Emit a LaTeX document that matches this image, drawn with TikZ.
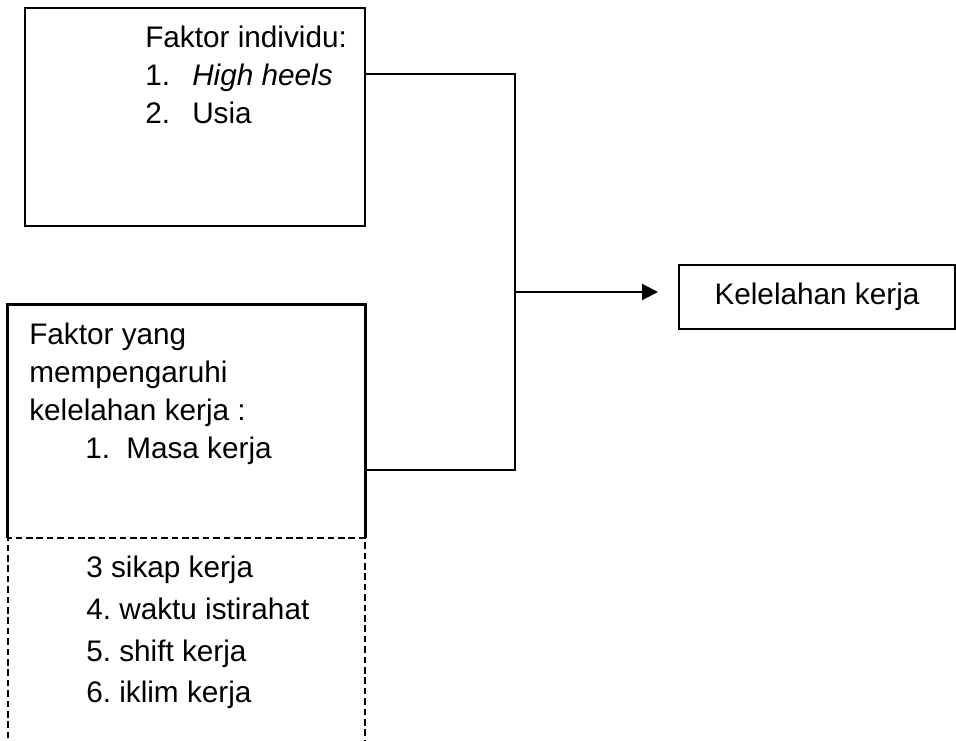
\documentclass[tikz,border=0pt]{standalone}
\usepackage{fontspec}
\setmainfont{Liberation Sans}
\usetikzlibrary{positioning,arrows.meta}
\frenchspacing

\tikzset{
  kotak/.style={draw, line width=2pt, inner sep=0pt},
  teks/.style={anchor=base west, inner sep=0pt, font=\fontsize{22.3}{26}\selectfont},
  garis/.style={line width=1.6pt},
  putus/.style={line width=1.8pt, dash pattern=on 5pt off 2.8pt},
}

\begin{document}
\begin{tikzpicture}[x=0.75pt,y=-0.75pt]
  \useasboundingbox (0,0) rectangle (956,740);

  % Kotak faktor individu
  \node[kotak, minimum width=255pt, minimum height=163.5pt] (ind) at (195,117) {};
  \node[teks] (ind1) at (145,47) {Faktor individu:};
  \node[teks] (ind2) at (145,85) {1.};
  \node[teks] (ind3) at (192,85) {\textit{High heels}};
  \node[teks] (ind4) at (145,123) {2.};
  \node[teks] (ind5) at (192,123) {Usia};

  % Kotak faktor yang mempengaruhi (sisi bawah putus-putus)
  \node[minimum width=267.75pt, minimum height=174.75pt, inner sep=0pt] (masa) at (186.5,421.5) {};
  \draw[line width=2pt] (masa.south west) -- (masa.north west) -- (masa.north east) -- (masa.south east);
  \node[teks] (mp1) at (29,344) {Faktor yang};
  \node[teks] (mp2) at (29,382) {mempengaruhi};
  \node[teks] (mp3) at (29,420) {kelelahan kerja :};
  \node[teks] (mp4) at (85,458) {1.};
  \node[teks] (mp5) at (126,458) {Masa kerja};

  % Faktor lain (kotak putus-putus)
  \node[minimum width=267.75pt, minimum height=157.5pt, inner sep=0pt, below=0pt of masa] (lain) {};
  \draw[putus] (lain.south west) -- (lain.north west) -- (lain.north east) -- (lain.south east);
  \node[teks] (ln1) at (86,577) {3 sikap kerja};
  \node[teks] (ln2) at (86,619) {4. waktu istirahat};
  \node[teks] (ln3) at (86,661) {5. shift kerja};
  \node[teks] (ln4) at (86,702) {6. iklim kerja};

  % Kotak kelelahan kerja
  \node[draw, line width=1.5pt, minimum width=207pt, minimum height=48pt,
        font=\fontsize{22.3}{26}\selectfont] (out) at (817,297) {Kelelahan kerja};

  % Garis penghubung
  \coordinate (sA) at (515,74);
  \coordinate (sB) at (515,470);
  \coordinate (sC) at (515,292);
  \draw[garis] (ind.east |- sA) -- (sA) -- (sB) -- (masa.east |- sB);
  \draw[garis, -{Triangle[length=12pt,width=12pt]}, shorten >=15pt] (sC) -- (out.west |- sC);
\end{tikzpicture}
\end{document}
